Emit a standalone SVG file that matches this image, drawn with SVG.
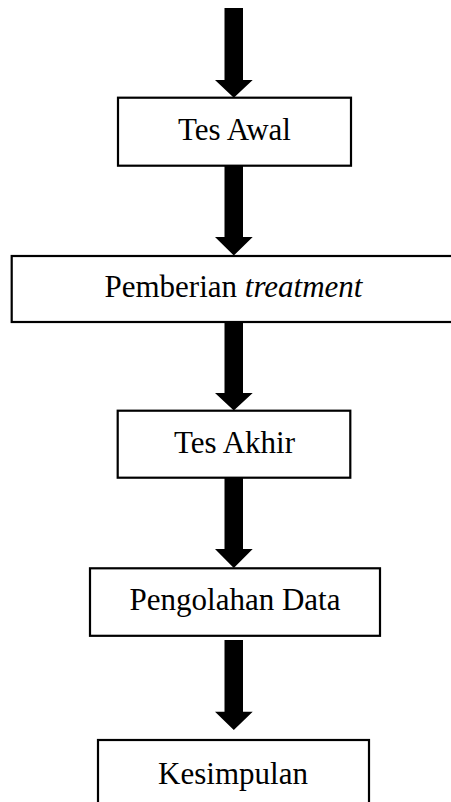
<svg xmlns="http://www.w3.org/2000/svg" width="451" height="802" viewBox="0 0 451 802">
<style>
.box{fill:#fff;stroke:#000;stroke-width:2.2}
.lbl{font-family:"Liberation Serif","Times New Roman",serif;font-size:31px;fill:#000;text-anchor:middle}
.arr{fill:#000;stroke:none}
</style>
<rect width="451" height="802" fill="#fff"/>
<g id="node-tes-awal"><rect class="box" x="118" y="97.7" width="233" height="68"/><text class="lbl" x="234.5" y="140">Tes Awal</text></g>
<g id="node-pemberian"><rect class="box" x="11.7" y="256" width="450" height="66"/><text class="lbl" x="233.5" y="297">Pemberian <tspan font-style="italic">treatment</tspan></text></g>
<g id="node-tes-akhir"><rect class="box" x="117.7" y="410.7" width="232.6" height="67"/><text class="lbl" x="234.5" y="453">Tes Akhir</text></g>
<g id="node-pengolahan"><rect class="box" x="90" y="568.3" width="290" height="67.5"/><text class="lbl" x="235" y="610">Pengolahan Data</text></g>
<g id="node-kesimpulan"><rect class="box" x="98" y="740" width="271" height="80"/><text class="lbl" x="233" y="784">Kesimpulan</text></g>
<g id="connectors">
<polygon class="arr" points="224.5,8 243,8 243,80 252.7,80 233.8,97.7 215,80 224.5,80"/>
<polygon class="arr" points="224.5,166 243,166 243,237 252.7,237 233.8,255.5 215,237 224.5,237"/>
<polygon class="arr" points="224.5,323 243,323 243,393 252.7,393 233.8,410.5 215,393 224.5,393"/>
<polygon class="arr" points="224.5,478 243,478 243,549 252.7,549 233.8,568 215,549 224.5,549"/>
<polygon class="arr" points="224.5,640 243,640 243,711.7 252.7,711.7 233.8,730 215,711.7 224.5,711.7"/>
</g>
</svg>
